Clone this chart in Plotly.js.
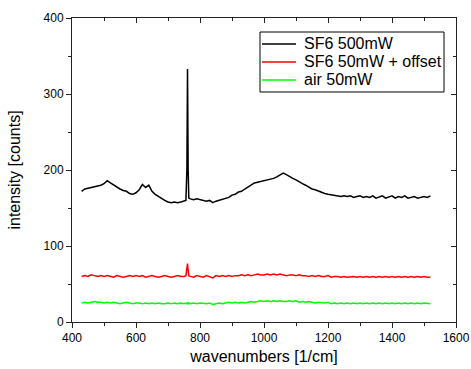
<!DOCTYPE html>
<html>
<head>
<meta charset="utf-8">
<script src="https://cdn.plot.ly/plotly-3.0.1.min.js"></script>
<style>html,body{margin:0;padding:0;background:#fff}#chart{width:471px;height:369px}</style>
</head>
<body>
<div id="chart"></div>
<script>
const wavenumbers = [430,440,450,460,470,480,490,500,510,520,530,540,550,560,570,580,590,600,610,620,630,640,650,660,670,680,690,700,710,720,730,740,750,
  756,759,761,763,765,
  770,780,790,800,810,820,830,840,850,860,870,880,890,900,910,920,930,940,950,960,970,980,990,1000,
  1010,1020,1030,1040,1050,1060,1070,1080,1090,1100,1110,1120,1130,1140,1150,1160,1170,1180,1190,1200,
  1210,1220,1230,1240,1250,1260,1270,1280,1290,1300,1310,1320,1330,1340,1350,1360,1370,1380,1390,1400,
  1410,1420,1430,1440,1450,1460,1470,1480,1490,1500,1510,1520];

const sf6_500mW = [172,175,176,177,178,178,180,182,186,183,180,177,175,173,172,169,168,170,174,181,177,180,172,168,165,162,160,158,157,158,157,158,159,
  160,200,333,200,163,
  162,161,162,161,160,159,160,157,159,160,161,163,164,167,168,171,172,175,178,181,183,184,185,186,
  186,187,189,191,194,196,194,191,189,187,184,182,180,177,175,174,172,171,169,168,
  167,166,166,165,166,165,166,164,165,166,164,165,164,166,163,165,166,163,165,166,
  163,165,164,166,163,164,165,163,164,165,164,166];

const sf6_50mW_offset = [60,61,60,62,61,60,61,60,61,60,59,61,60,59,60,61,60,61,60,61,59,60,61,60,59,60,61,60,59,60,61,60,60,
  61,68,77,68,61,
  60,59,61,60,59,61,60,58,61,60,61,60,61,60,61,61,62,61,62,61,62,63,62,62,
  63,62,63,62,63,62,61,62,62,61,62,61,61,60,61,60,61,60,60,61,
  59,60,60,59,60,59,60,60,59,60,59,60,59,60,59,60,59,60,59,60,
  59,60,59,60,59,60,59,60,59,60,59,59];

const air_50mW = [25,26,25,26,27,26,26,25,26,25,26,25,24,25,26,25,24,25,25,24,25,24,25,24,25,24,24,25,24,25,24,25,24,
  25,24,25,24,25,
  24,25,24,25,24,24,25,23,24,25,24,25,26,25,26,25,26,25,26,27,26,27,28,27,
  28,27,28,27,28,27,27,28,27,28,26,27,26,27,26,25,26,25,25,26,
  24,25,24,25,24,25,24,25,24,25,24,25,24,25,24,25,24,25,24,25,
  24,25,24,25,24,25,24,25,24,25,24,24];

const seriesNames = ["SF6 500mW", "SF6 50mW + offset", "air 50mW"];
const seriesColors = ["#000000", "#ff0000", "#00ff00"];
const xTickVals = [400,600,800,1000,1200,1400,1600];
const yTickVals = [0,100,200,300,400];

const FONT = "Liberation Sans, Arial, sans-serif";
const AX = "#222222";

const seriesData = [sf6_500mW, sf6_50mW_offset, air_50mW];
const traces = seriesData.map((ys, i) => ({
  x: wavenumbers, y: ys, name: seriesNames[i], type: "scatter", mode: "lines",
  line: {color: seriesColors[i], width: 1.5}, showlegend: false
}));
traces.push({x: [400], y: [0], xaxis: "x2", yaxis: "y2", showlegend: false, mode: "markers", marker: {opacity: 0}, hoverinfo: "skip"});

// Legend drawn as a boxed key (paper coordinates)
const legX0 = 0.4896, legX1 = 0.9688, legY0 = 0.7566, legY1 = 0.9539;
const rowY = [0.9145, 0.8553, 0.7961];
const shapes = [{type: "rect", xref: "paper", yref: "paper", x0: legX0, x1: legX1, y0: legY0, y1: legY1,
  line: {color: "#000", width: 1}, fillcolor: "#fff", layer: "above"}];
const annotations = [];
seriesNames.forEach((n, i) => {
  shapes.push({type: "line", xref: "paper", yref: "paper", x0: 0.4948, x1: 0.5833, y0: rowY[i], y1: rowY[i],
    line: {color: seriesColors[i], width: 1.5}, layer: "above"});
  annotations.push({xref: "paper", yref: "paper", x: 0.598, y: rowY[i], xanchor: "left", yanchor: "middle",
    text: n, showarrow: false, font: {family: FONT, size: 16, color: "#000"}});
});

const layout = {
  width: 471, height: 369,
  margin: {l: 72, r: 15, t: 18, b: 47},
  paper_bgcolor: "#fff", plot_bgcolor: "#fff",
  font: {family: FONT, color: "#000"},
  showlegend: false,
  shapes: shapes,
  annotations: annotations,
  xaxis: {
    range: [400, 1600], tickvals: xTickVals, ticktext: xTickVals.map(String),
    showgrid: false, zeroline: false, showline: true, linecolor: AX, linewidth: 1,
    ticks: "outside", ticklen: 5, tickwidth: 1, tickcolor: AX,
    tickfont: {family: FONT, size: 12, color: "#000"},
    minor: {ticks: "outside", ticklen: 3, tickwidth: 1, tickcolor: AX, dtick: 100, tick0: 0},
    title: {text: "wavenumbers [1/cm]", font: {family: FONT, size: 16, color: "#000"}, standoff: 6}
  },
  yaxis: {
    range: [0, 400], tickvals: yTickVals, ticktext: yTickVals.map(String),
    showgrid: false, zeroline: false, showline: true, linecolor: AX, linewidth: 1,
    ticks: "outside", ticklen: 5, tickwidth: 1, tickcolor: AX,
    tickfont: {family: FONT, size: 12, color: "#000"},
    minor: {ticks: "outside", ticklen: 3, tickwidth: 1, tickcolor: AX, dtick: 50, tick0: 0},
    title: {text: "intensity [counts]", font: {family: FONT, size: 16, color: "#000"}, standoff: 18}
  },
  xaxis2: {
    overlaying: "x", side: "top", anchor: "y", range: [400, 1600], showgrid: false, zeroline: false,
    showline: true, linecolor: AX, linewidth: 1, showticklabels: false,
    ticks: "inside", ticklen: 5, tickcolor: AX, tickvals: xTickVals,
    minor: {ticks: "inside", ticklen: 3, tickcolor: AX, dtick: 100, tick0: 0}
  },
  yaxis2: {
    overlaying: "y", side: "right", anchor: "x", range: [0, 400], showgrid: false, zeroline: false,
    showline: true, linecolor: AX, linewidth: 1, showticklabels: false,
    ticks: "inside", ticklen: 5, tickcolor: AX, tickvals: yTickVals,
    minor: {ticks: "inside", ticklen: 3, tickcolor: AX, dtick: 50, tick0: 0}
  }
};

Plotly.newPlot("chart", traces, layout, {displayModeBar: false, staticPlot: true});
</script>
</body>
</html>
